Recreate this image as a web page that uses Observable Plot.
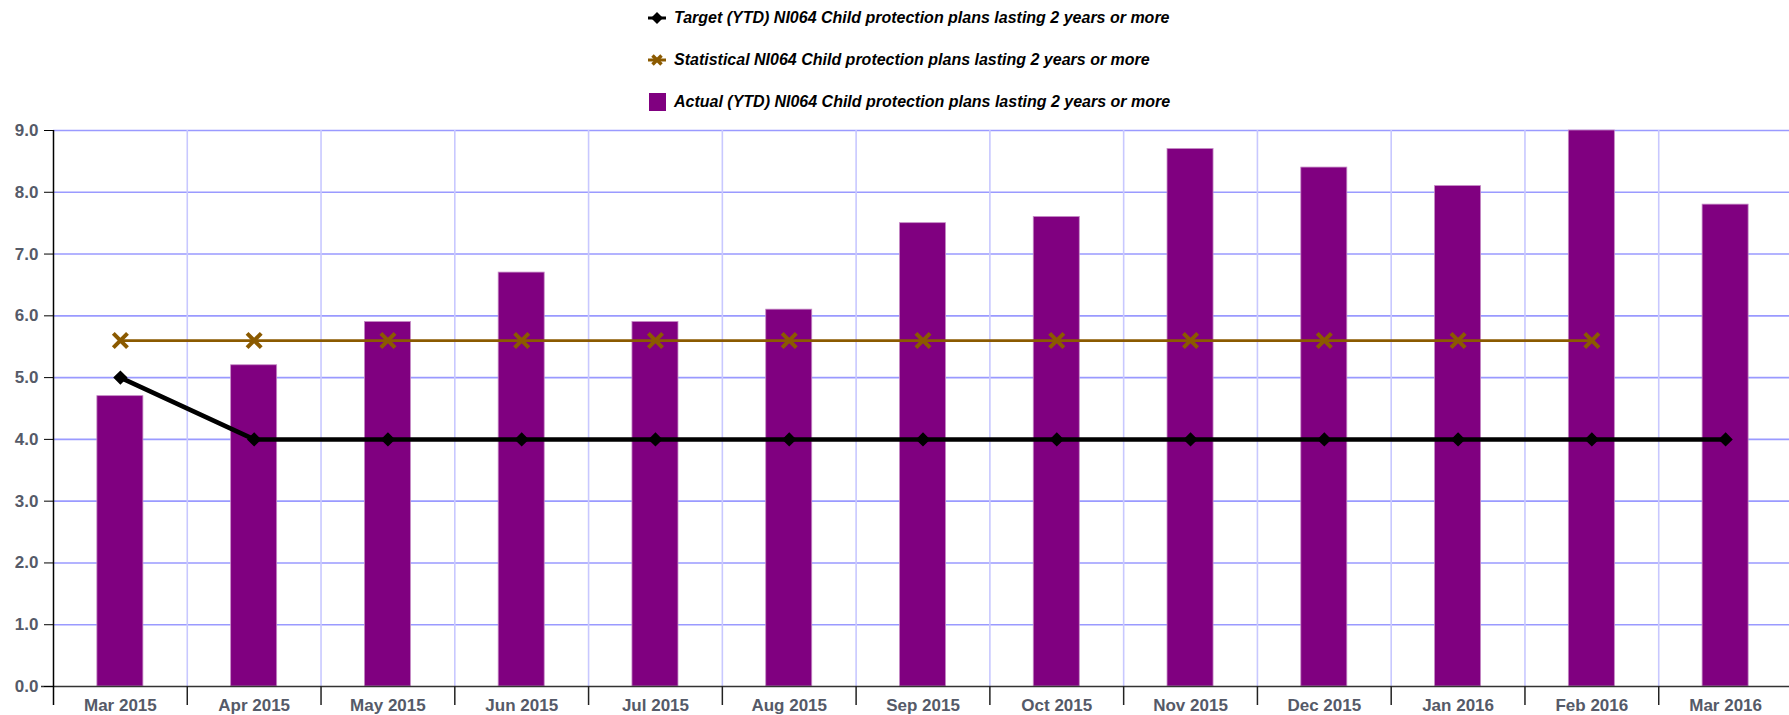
<!DOCTYPE html>
<html>
<head>
<meta charset="utf-8">
<script src="https://cdn.jsdelivr.net/npm/d3@7"></script>
<script src="https://cdn.jsdelivr.net/npm/@observablehq/plot@0.6"></script>
<style>
  html, body { margin: 0; padding: 0; background: #fff; }
  #legend { position: relative; height: 120px; width: 1789px; font: italic bold 16px Arial, "Liberation Sans", sans-serif; color: #000; }
  .item { position: absolute; left: 644px; height: 20px; display: flex; align-items: center; }
  .item svg { width: 26px; height: 20px; margin-right: 4px; }
</style>
</head>
<body>
<div id="legend"></div>
<div id="chart"></div>
<script>
const months = ["Mar 2015","Apr 2015","May 2015","Jun 2015","Jul 2015","Aug 2015","Sep 2015","Oct 2015","Nov 2015","Dec 2015","Jan 2016","Feb 2016","Mar 2016"];
const actual = [4.7, 5.2, 5.9, 6.7, 5.9, 6.1, 7.5, 7.6, 8.7, 8.4, 8.1, 9.0, 7.8];
const target = [5.0, 4.0, 4.0, 4.0, 4.0, 4.0, 4.0, 4.0, 4.0, 4.0, 4.0, 4.0, 4.0];
const statistical = [5.6, 5.6, 5.6, 5.6, 5.6, 5.6, 5.6, 5.6, 5.6, 5.6, 5.6, 5.6, null];
const yTicks = [0, 1, 2, 3, 4, 5, 6, 7, 8, 9];
const seriesNames = [
  "Target (YTD) NI064 Child protection plans lasting 2 years or more",
  "Statistical NI064 Child protection plans lasting 2 years or more",
  "Actual (YTD) NI064 Child protection plans lasting 2 years or more"
];

const colActual = "#800080", colTarget = "#000000", colStat = "#8B5A00";

// Legend
const legend = document.getElementById("legend");
const swatches = [
  `<svg viewBox="0 0 26 20"><line x1="4" y1="10" x2="22" y2="10" stroke="${colTarget}" stroke-width="3"/><path d="M13 4 L19 10 L13 16 L7 10Z" fill="${colTarget}"/></svg>`,
  `<svg viewBox="0 0 26 20"><line x1="4" y1="10" x2="22" y2="10" stroke="${colStat}" stroke-width="3"/><path d="M8.5 5.5 L17.5 14.5 M17.5 5.5 L8.5 14.5" stroke="${colStat}" stroke-width="3.5"/></svg>`,
  `<svg viewBox="0 0 26 20"><rect x="5" y="1" width="17" height="18" fill="${colActual}"/></svg>`
];
const rowsY = [8, 50, 92];
seriesNames.forEach((name, i) => {
  const div = document.createElement("div");
  div.className = "item";
  div.style.top = rowsY[i] + "px";
  div.innerHTML = swatches[i] + `<span>${name}</span>`;
  legend.appendChild(div);
});

const data = months.map((m, i) => ({month: m, actual: actual[i], target: target[i], statistical: statistical[i]}));
const statData = data.filter(d => d.statistical != null);

const width = 1789, height = 595;
const marginLeft = 53, marginRight = -3, marginTop = 10, marginBottom = 29;
const step = (width - marginLeft - marginRight) / months.length;

const chart = Plot.plot({
  width, height, marginLeft, marginRight, marginTop, marginBottom,
  style: {fontFamily: "Arial, 'Liberation Sans', sans-serif", fontSize: "17px", fontWeight: "bold", background: "#fff"},
  x: {type: "band", domain: months, paddingInner: 0.656, paddingOuter: 0.328, round: false, label: null},
  y: {domain: [0, 9], label: null},
  marks: [
    Plot.ruleY(yTicks.slice(1), {stroke: "#9a9aff", strokeWidth: 1.6}),
    Plot.ruleX(months.slice(1), {x: d => d, dx: -step / 2, stroke: "#c8c8ff", strokeWidth: 1.6}),
    Plot.barY(data, {x: "month", y: "actual", fill: colActual, stroke: "#c58ac5", strokeWidth: 0.8}),
    Plot.ruleY([0], {stroke: "#333", strokeWidth: 1.5, insetLeft: -12}),
    Plot.ruleX(months.slice(1), {x: d => d, dx: -step / 2, y1: 0, y2: 0, insetBottom: -19, stroke: "#222", strokeWidth: 1.5}),
    Plot.ruleX(months.slice(0, 1), {x: d => d, dx: -step / 2, insetBottom: -19, stroke: "#000", strokeWidth: 1.5}),
    Plot.axisY({ticks: yTicks, tickFormat: d => d.toFixed(1), tickSize: 9, tickPadding: 6, stroke: "#000", fill: "#555a68", fontWeight: "bold", fontSize: 17}),
    Plot.axisX({tickSize: 0, tickPadding: 12, fill: "#555a68", fontWeight: "bold", fontSize: 17}),
    Plot.line(statData, {x: "month", y: "statistical", stroke: colStat, strokeWidth: 2.8}),
    Plot.dot(statData, {x: "month", y: "statistical", symbol: "times", r: 6.5, stroke: colStat, strokeWidth: 4}),
    Plot.line(data, {x: "month", y: "target", stroke: colTarget, strokeWidth: 4.5}),
    Plot.dot(data, {x: "month", y: "target", symbol: "diamond2", r: 5.5, fill: colTarget, stroke: colTarget, strokeWidth: 1.5})
  ]
});
document.getElementById("chart").appendChild(chart);
</script>
</body>
</html>
